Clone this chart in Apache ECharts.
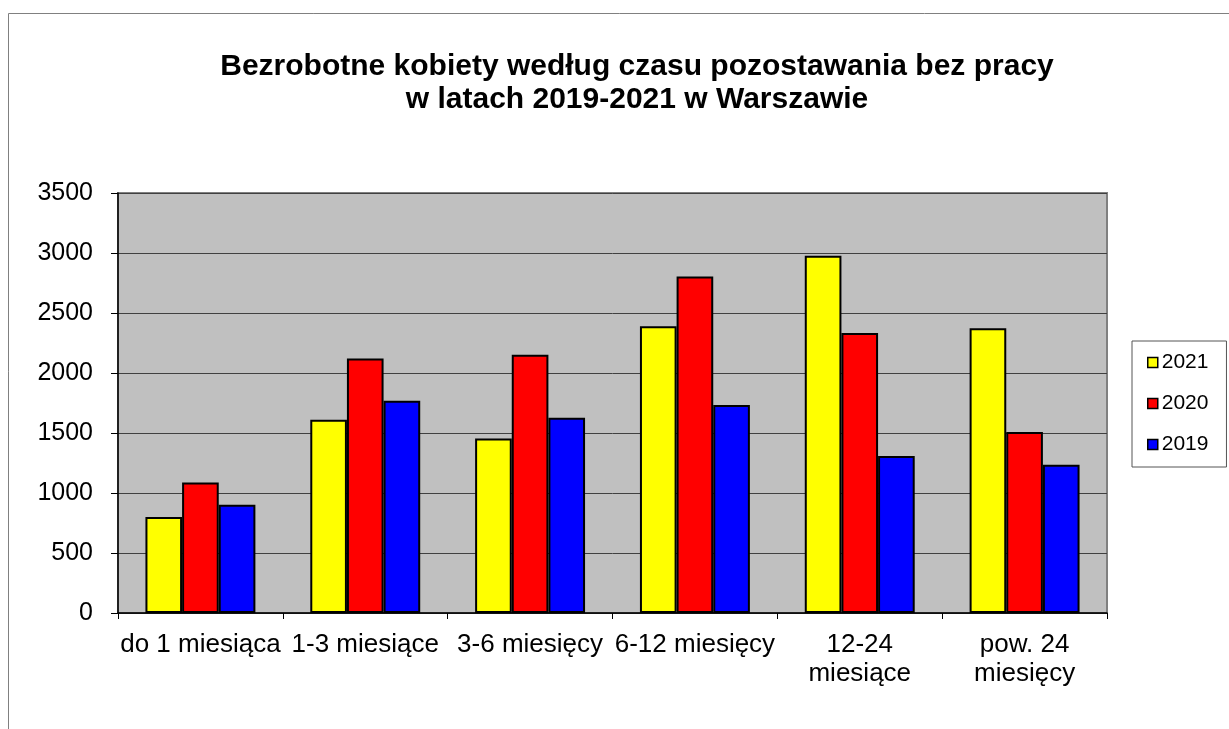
<!DOCTYPE html>
<html>
<head>
<meta charset="utf-8">
<script src="https://cdn.jsdelivr.net/npm/echarts@6/dist/echarts.min.js"></script>
<style>
  html, body { margin: 0; padding: 0; background: #fff; }
  #chart { width: 1229px; height: 729px; }
</style>
</head>
<body>
<div id="chart"></div>
<script>
// kategorie - czas pozostawania bez pracy
var categories = ['do 1 miesiąca', '1-3 miesiące', '3-6 miesięcy', '6-12 miesięcy', '12-24\nmiesiące', 'pow. 24\nmiesięcy'];
// lata
var years = ['2021', '2020', '2019'];
var values2021 = [800, 1610, 1455, 2390, 2978, 2372];
var values2020 = [1088, 2120, 2152, 2805, 2333, 1508];
var values2019 = [902, 1768, 1627, 1733, 1308, 1236];
var yTicks = [0, 500, 1000, 1500, 2000, 2500, 3000, 3500];

var colors = ['#ffff00', '#ff0000', '#0000ff'];
var seriesData = [values2021, values2020, values2019];

var chart = echarts.init(document.getElementById('chart'));

var option = {
  backgroundColor: '#ffffff',
  animation: false,
  textStyle: { fontFamily: '"Liberation Sans", Arial, sans-serif', color: '#000' },
  graphic: [{
    type: 'rect',
    shape: { x: 8.5, y: 13.5, width: 1400, height: 900 },
    style: { fill: 'none', stroke: '#808080', lineWidth: 1 },
    silent: true
  }],
  title: {
    text: 'Bezrobotne kobiety według czasu pozostawania bez pracy\nw latach 2019-2021 w Warszawie',
    left: 632,
    top: 45,
    textAlign: 'center',
    textStyle: {
      fontSize: 30,
      fontWeight: 'bold',
      lineHeight: 33,
      color: '#000',
      fontFamily: '"Liberation Sans", Arial, sans-serif'
    }
  },
  legend: {
    orient: 'vertical',
    left: 1132,
    top: 341,
    data: years,
    icon: 'rect',
    itemWidth: 10,
    itemHeight: 10,
    itemGap: 20,
    padding: [11, 18, 12, 15],
    borderColor: '#555',
    borderWidth: 1,
    backgroundColor: '#fff',
    itemStyle: { borderColor: '#000', borderWidth: 1.5 },
    textStyle: { fontSize: 21, lineHeight: 21, padding: [0, 0, 0, -1], color: '#000' }
  },
  grid: {
    left: 118,
    top: 193,
    width: 989,
    height: 420,
    show: true,
    backgroundColor: '#c0c0c0',
    borderColor: '#808080',
    borderWidth: 2
  },
  xAxis: {
    type: 'category',
    data: categories,
    axisLine: { lineStyle: { color: '#000', width: 1.5 } },
    axisTick: { show: true, length: 6, lineStyle: { color: '#000' } },
    axisLabel: {
      interval: 0,
      hideOverlap: false,
      fontSize: 26,
      lineHeight: 29,
      margin: 17,
      color: '#000'
    },
    splitLine: { show: false }
  },
  yAxis: {
    type: 'value',
    min: yTicks[0],
    max: yTicks[yTicks.length - 1],
    interval: 500,
    axisLine: { show: true, lineStyle: { color: '#000', width: 1.5 } },
    axisTick: { show: true, length: 7, lineStyle: { color: '#000' } },
    axisLabel: {
      fontSize: 25,
      margin: 25,
      color: '#000',
      formatter: function (v) { return String(v); }
    },
    splitLine: { show: true, lineStyle: { color: '#404040', width: 1 } }
  },
  series: years.map(function (y, i) {
    return {
      name: y,
      type: 'bar',
      data: seriesData[i],
      barGap: '0%',
      barCategoryGap: '33.3%',
      itemStyle: { color: colors[i], borderColor: '#000', borderWidth: 2 }
    };
  })
};

chart.setOption(option);
</script>
</body>
</html>
